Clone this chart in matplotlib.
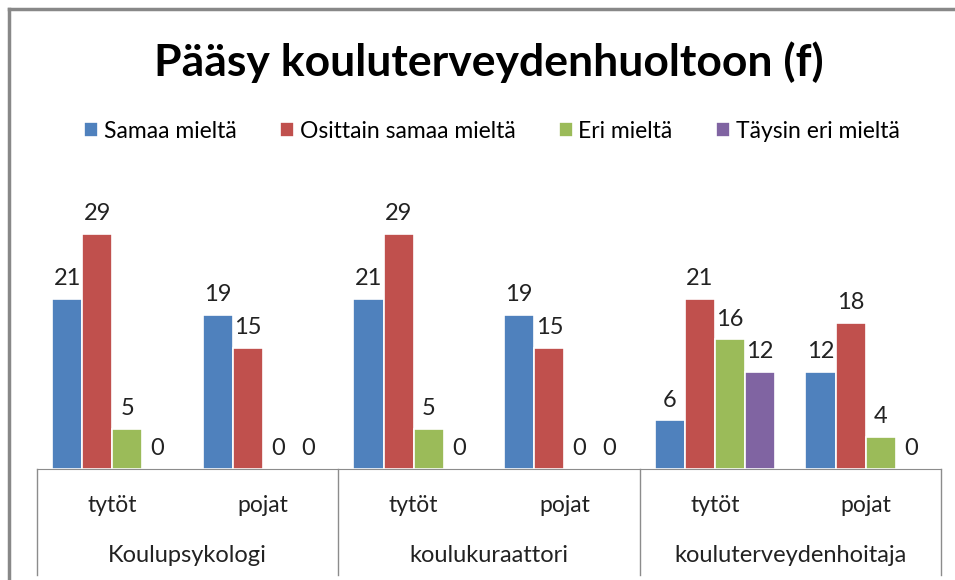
import matplotlib

matplotlib.use("Agg")
import matplotlib.pyplot as plt
from matplotlib.lines import Line2D
import numpy as np

plt.rcParams["font.family"] = ["Lato", "DejaVu Sans"]

title = "Pääsy kouluterveydenhuoltoon (f)"
groups = ["Koulupsykologi", "koulukuraattori", "kouluterveydenhoitaja"]
subgroups = ["tytöt", "pojat"]
series = ["Samaa mieltä", "Osittain samaa mieltä", "Eri mieltä", "Täysin eri mieltä"]

# one value per (group, subgroup), in order
samaa = [21, 19, 21, 19, 6, 12]
osittain = [29, 15, 29, 15, 21, 18]
eri = [5, 0, 5, 0, 16, 4]
taysin = [0, 0, 0, 0, 12, 0]

colors = ["#4F81BD", "#C0504D", "#9BBB59", "#8064A2"]

W, H = 955, 580
fig = plt.figure(figsize=(W / 100, H / 100), dpi=100)
ax = fig.add_axes([37 / W, 111 / H, (941 - 37) / W, 283.5 / H])

n = len(samaa)
xs = np.arange(n)
bw = 0.2
for i, (vals, c, lab) in enumerate(zip([samaa, osittain, eri, taysin], colors, series)):
    pos = xs + (i - 1.5) * bw
    ax.bar(pos, vals, width=bw, color=c, edgecolor="white", linewidth=1.2, label=lab)
    for x, v in zip(pos, vals):
        ax.annotate(f"{v}", (x, v), textcoords="offset points", xytext=(0, 7),
                    ha="center", va="bottom", fontsize=17, color="#222222")

ax.set_xlim(-0.5, n - 0.5)
ax.set_ylim(0, 35)
ax.set_xticks([])
ax.set_yticks([])
for s in ["left", "right", "top"]:
    ax.spines[s].set_visible(False)
ax.spines["bottom"].set_color("#8c8c8c")

# multi-level category axis
trans = ax.get_xaxis_transform()
for b in np.arange(-0.5, n, 2):
    ax.plot([b, b], [0, -0.375], transform=trans, color="#8c8c8c", lw=1, clip_on=False)
for i, x in enumerate(xs):
    ax.text(x, -0.13, subgroups[i % 2], transform=trans, ha="center", va="center",
            fontsize=16.5, color="#222222")
for g, name in enumerate(groups):
    ax.text(2 * g + 0.5, -0.305, name, transform=trans, ha="center", va="center",
            fontsize=17, color="#222222")

fig.text(489 / W, 1 - 62 / H, title, ha="center", va="center",
         fontsize=32, fontweight="bold", color="black")
fig.legend(loc="center", bbox_to_anchor=(492 / W, 1 - 131 / H), ncol=4, frameon=False,
           fontsize=16.5, handlelength=0.6, handleheight=0.6, handletextpad=0.25,
           columnspacing=1.9)

# chart frame (left and top edges visible)
fig.add_artist(Line2D([9 / W, 9 / W], [0, 1 - 9 / H], color="#888888", lw=2.5,
                      transform=fig.transFigure))
fig.add_artist(Line2D([9 / W, 1], [1 - 9 / H, 1 - 9 / H], color="#888888", lw=2.5,
                      transform=fig.transFigure))

fig.savefig("out.png", dpi=100)
